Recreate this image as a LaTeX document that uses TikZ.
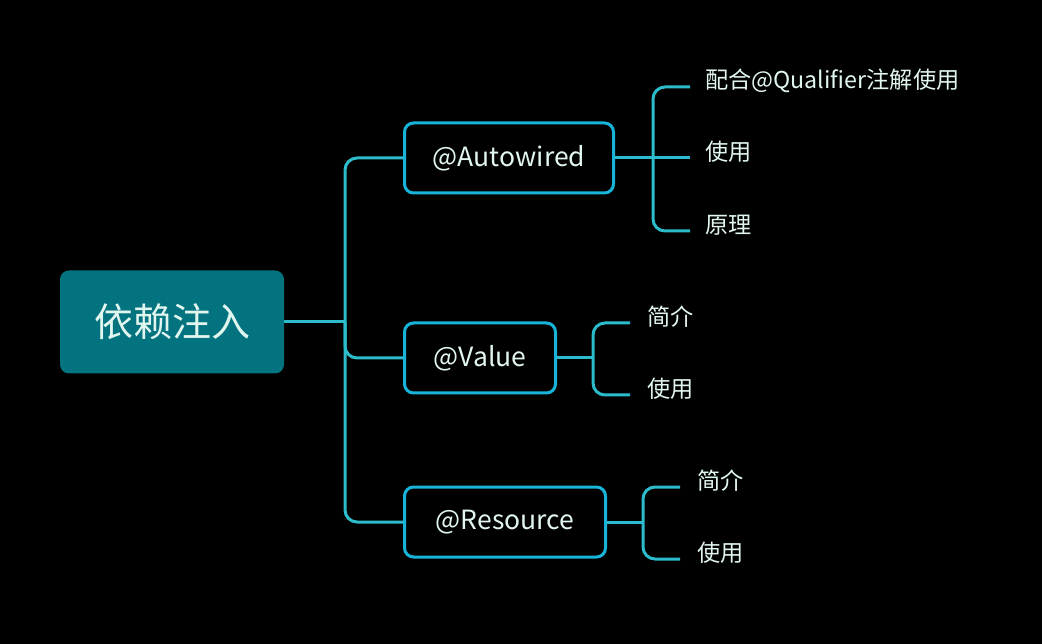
\documentclass[tikz,border=0pt]{standalone}
\usepackage{fontspec}
\setmainfont{Noto Sans CJK SC}
\usepackage{tikz}
\usepackage{xcolor}

\definecolor{rootfill}{HTML}{02737F}
\definecolor{linecol}{HTML}{2CBCCB}
\definecolor{boxcol}{HTML}{17B3D9}
\definecolor{txt}{HTML}{E2F6F0}

\begin{document}
\begin{tikzpicture}[x=1pt,y=-1pt,
    link/.style={draw = linecol, line width=3pt, rounded corners=12pt},
    topic/.style={draw = boxcol, line width=3pt, rounded corners=9pt, fill = black,
        text = txt, font=\fontsize{26.5}{29}\selectfont, minimum height=70pt},
    leaf/.style={anchor=west, text = txt, font=\fontsize{23.2}{25}\selectfont, inner sep=0pt}]
    \useasboundingbox[fill = black] (0,0) rectangle (1042,644);

    % root and the three topics
    \node[fill = rootfill, rounded corners=9pt, minimum width=224pt, minimum height=103pt,
        text = txt, font=\fontsize{39}{43}\selectfont] (root) at (172,322) {依赖注入};
    \node[topic, minimum width=209pt] (auto) at (509,158) {@Autowired};
    \node[topic, minimum width=151pt] (val) at (480,358) {@Value};
    \node[topic, minimum width=201pt] (res) at (505,522) {@Resource};
    \coordinate (tr) at (345,322);

    \draw[link] (root.east) -- (tr);
    \draw[link] (auto.west) -| (tr) |- (res.west);
    \draw[link] (tr) |- (val.west);

    % leaves of @Autowired
    \node[leaf] (a1) at (705,81) {配合@Qualifier注解使用};
    \node[leaf] (a2) at (705,152) {使用};
    \node[leaf] (a3) at (705,225) {原理};
    \coordinate (ah) at (653,158);
    \draw[link] ([xshift=-15pt,yshift=-6pt]a1.west) -| (ah) |- ([xshift=-15pt,yshift=-6pt]a3.west);
    \draw[link] (auto.east) -- ([xshift=-15pt]a2.west |- auto.east);

    % leaves of @Value
    \node[leaf] (v1) at (647,317) {简介};
    \node[leaf] (v2) at (647,389) {使用};
    \coordinate (vh) at (593,358);
    \draw[link] ([xshift=-17pt,yshift=-6pt]v1.west) -| (vh) |- ([xshift=-17pt,yshift=-6pt]v2.west);
    \draw[link] (val.east) -- (vh);

    % leaves of @Resource
    \node[leaf] (r1) at (697,481) {简介};
    \node[leaf] (r2) at (697,553) {使用};
    \coordinate (rh) at (643,522);
    \draw[link] ([xshift=-17pt,yshift=-6pt]r1.west) -| (rh) |- ([xshift=-17pt,yshift=-6pt]r2.west);
    \draw[link] (res.east) -- (rh);
\end{tikzpicture}
\end{document}
